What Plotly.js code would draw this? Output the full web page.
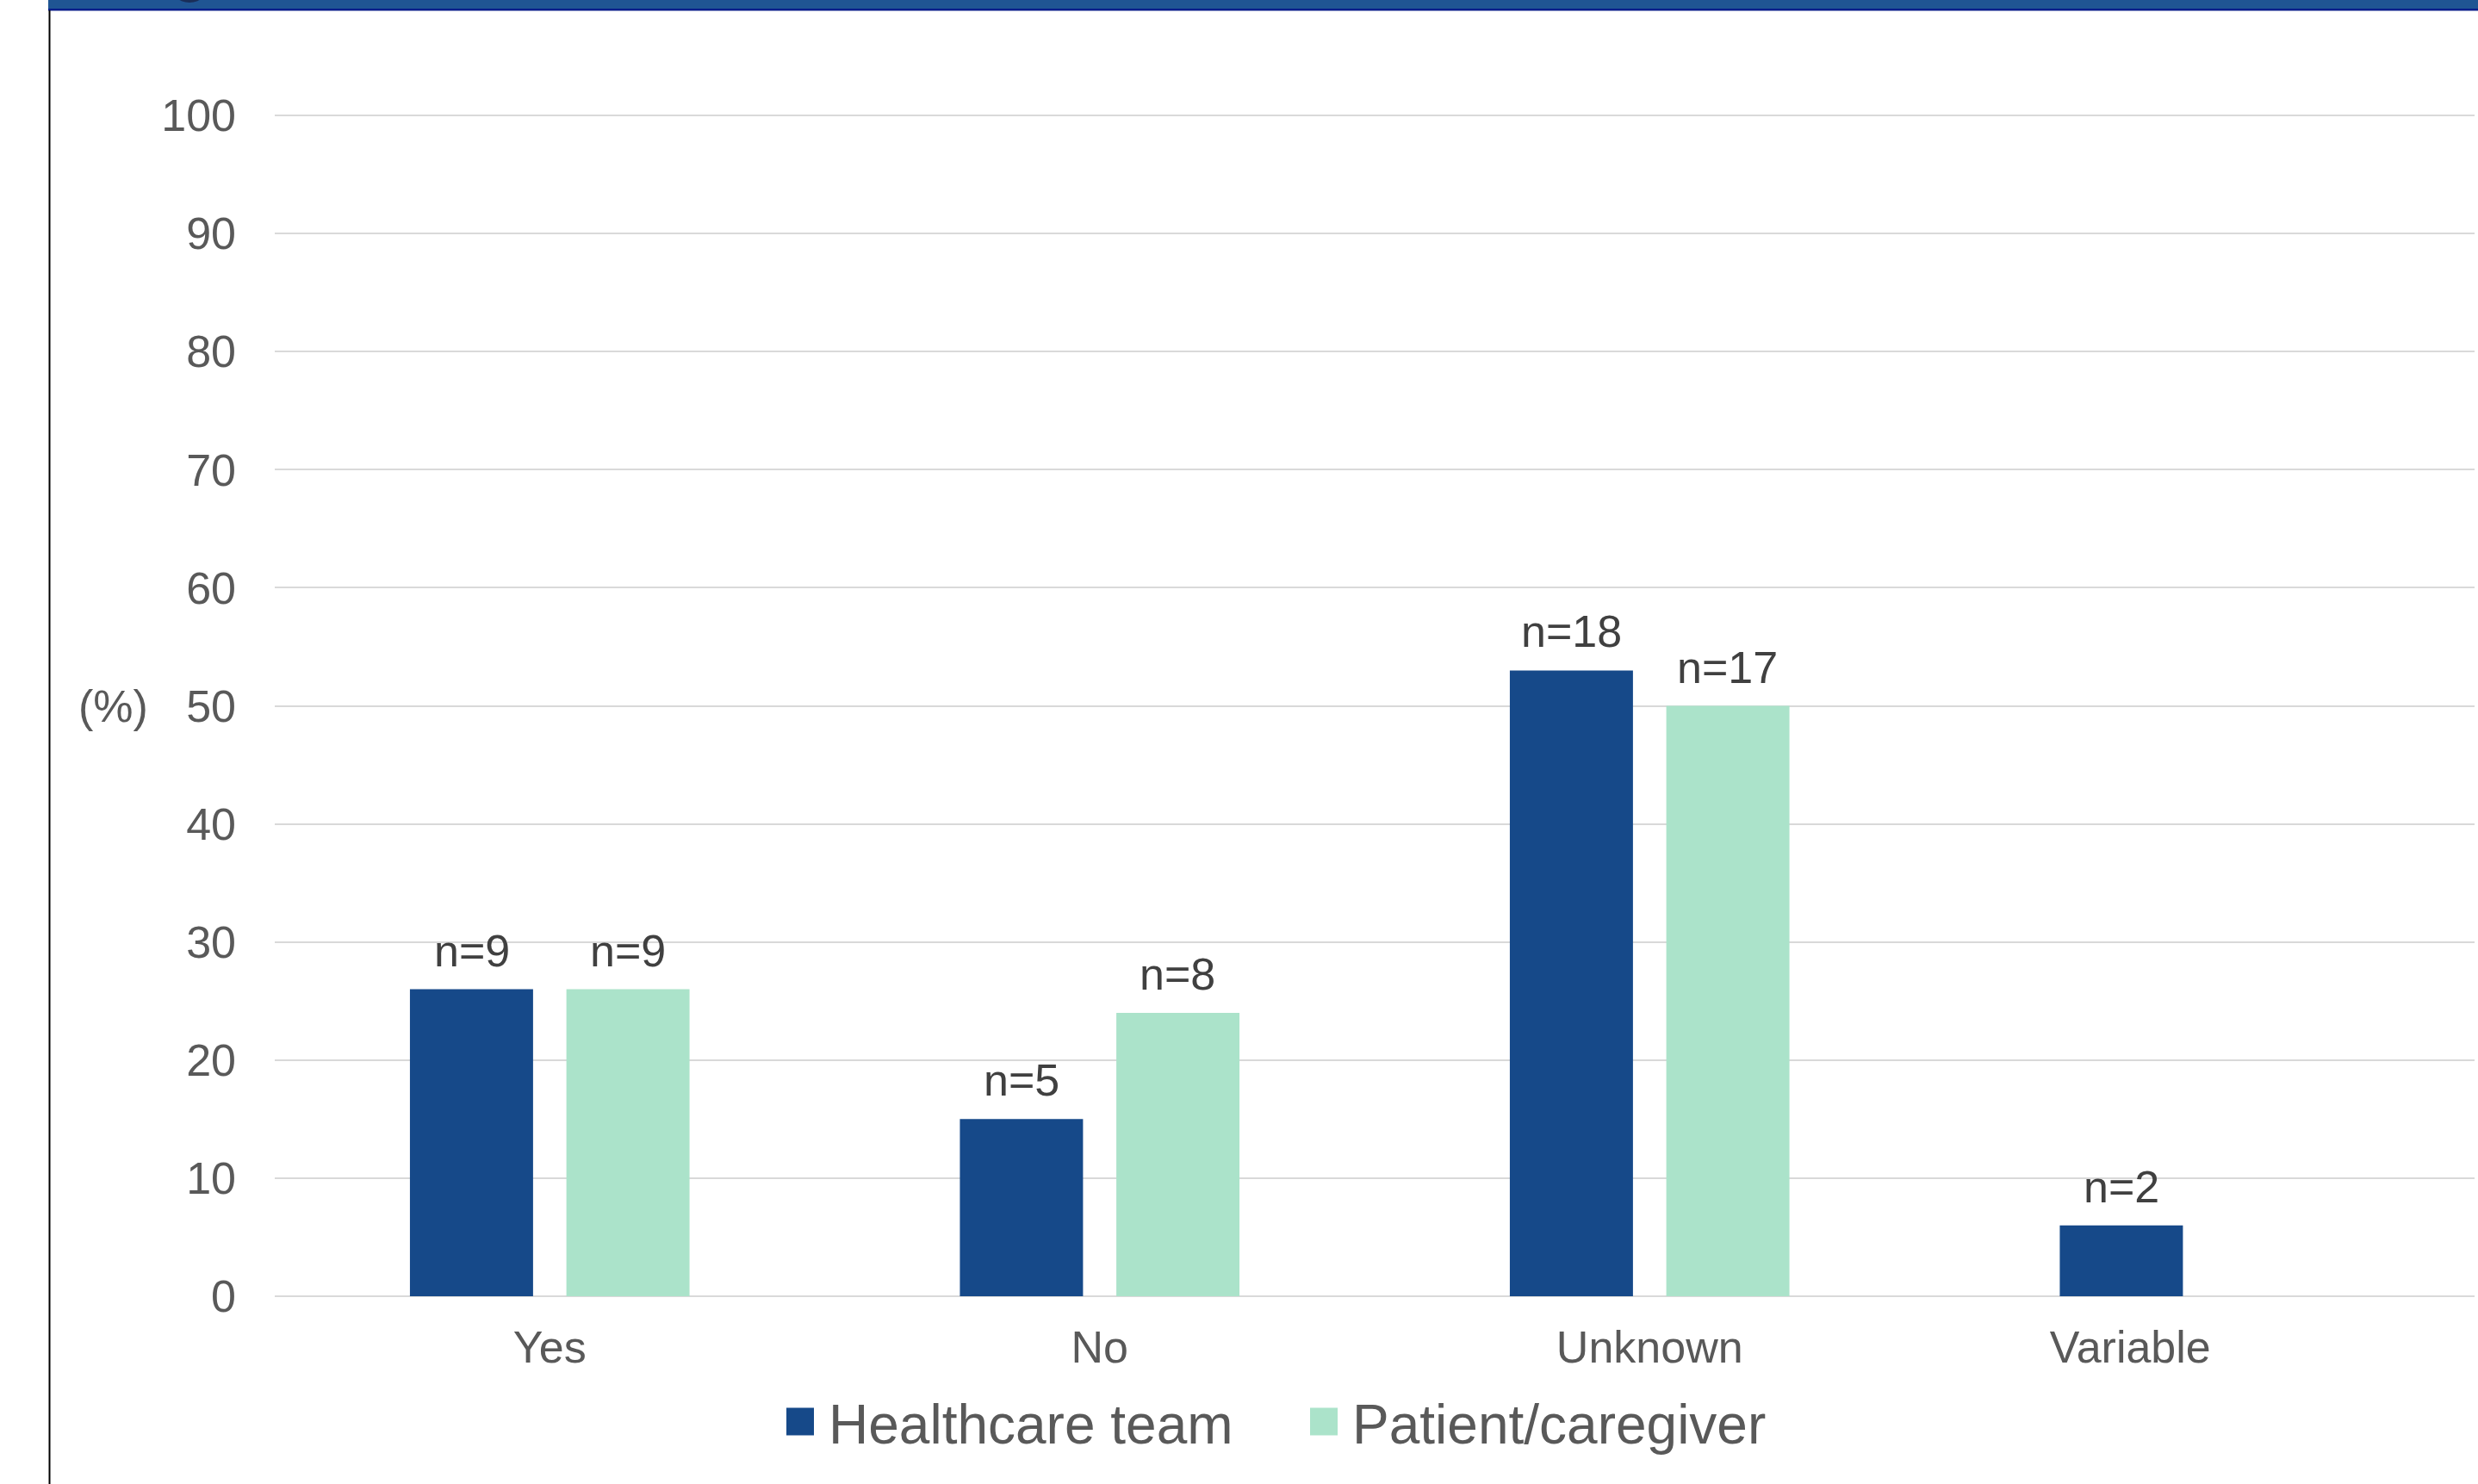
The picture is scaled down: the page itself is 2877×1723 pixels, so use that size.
<!DOCTYPE html>
<html><head><meta charset="utf-8">
<script src="https://cdn.plot.ly/plotly-3.0.1.min.js"></script>
<style>html,body{margin:0;padding:0;background:#fff;overflow:hidden;} #chart{width:2877px;height:1723px;}</style>
</head><body><div id="chart"></div>
<script>
// ---- data ----
const categories = ['Yes', 'No', 'Unknown', 'Variable'];
const seriesNames = ['Healthcare team', 'Patient/caregiver'];
const healthcareTeam = [26, 15, 53, 6];
const patientCaregiver = [26, 24, 50, null];
const healthcareN = ['n=9', 'n=5', 'n=18', 'n=2'];
const patientN = ['n=9', 'n=8', 'n=17', ''];
const yTickValues = [0, 10, 20, 30, 40, 50, 60, 70, 80, 90, 100];
const yUnitLabel = '(%)';

// ---- geometry ----
const W = 2877, H = 1723;
const L = 319, R = 4, T = 132, B = 218;
const plotW = W - L - R, plotH = H - T - B;
const px = x => (x - L) / plotW;
const py = y => (H - B - y) / plotH;

const colors = ['#164989', '#ABE3CA'];
const fontFam = 'Arial, "Liberation Sans", sans-serif';
const barOffset = 0.142;
const catPos = categories.map((c, i) => i);
// the last category label sits under its single bar in the original
const tickPos = catPos.map((p, i) => (patientCaregiver[i] == null ? p - 0.126 : p));

const traces = [
  {type: 'bar', name: seriesNames[0], x: catPos, y: healthcareTeam,
   marker: {color: colors[0]}, hoverinfo: 'none'},
  {type: 'bar', name: seriesNames[1], x: catPos, y: patientCaregiver,
   marker: {color: colors[1]}, hoverinfo: 'none'}
];

const annotations = [];
catPos.forEach((p, i) => {
  [[healthcareTeam, healthcareN, -barOffset], [patientCaregiver, patientN, barOffset]].forEach(([vals, labels, off]) => {
    if (vals[i] == null || !labels[i]) return;
    annotations.push({
      x: p + off, y: vals[i], xref: 'x', yref: 'y', text: labels[i],
      showarrow: false, yanchor: 'bottom', xanchor: 'center', yshift: 14,
      font: {family: fontFam, size: 52, color: '#404040'}
    });
  });
});
annotations.push({
  x: px(131), y: 50, xref: 'paper', yref: 'y', text: yUnitLabel, showarrow: false,
  xanchor: 'center', yanchor: 'middle', font: {family: fontFam, size: 52, color: '#595959'}
});

const shapes = [
  {type: 'rect', xref: 'paper', yref: 'paper', x0: px(56), x1: px(2877), y0: py(0), y1: py(10),
   fillcolor: '#1F5593', line: {width: 0}, layer: 'above'},
  {type: 'rect', xref: 'paper', yref: 'paper', x0: px(56), x1: px(2877), y0: py(10), y1: py(12.5),
   fillcolor: '#0A1E8A', line: {width: 0}, layer: 'above'},
  {type: 'circle', xref: 'paper', yref: 'paper', x0: px(196), x1: px(244), y0: py(-45), y1: py(3),
   fillcolor: '#1A2E58', line: {width: 0}, layer: 'above'},
  {type: 'rect', xref: 'paper', yref: 'paper', x0: px(56.5), x1: px(58.5), y0: py(12), y1: py(1723),
   fillcolor: '#000000', line: {width: 0}, layer: 'above'}
];

const layout = {
  width: W, height: H,
  margin: {l: L, r: R, t: T, b: B, pad: 0},
  paper_bgcolor: '#ffffff', plot_bgcolor: '#ffffff',
  font: {family: fontFam, size: 52, color: '#595959'},
  barmode: 'group', bargap: 0.431, bargroupgap: 0.213,
  xaxis: {type: 'linear', range: [-0.5, 3.5], tickvals: tickPos, ticktext: categories,
          showgrid: false, zeroline: false, showline: false,
          ticks: '', ticklabelstandoff: 24, tickfont: {family: fontFam, size: 52, color: '#595959'}, fixedrange: true},
  yaxis: {range: [0, 100.15], tickvals: yTickValues, showgrid: true, gridcolor: '#D9D9D9', gridwidth: 2,
          zeroline: true, zerolinecolor: '#D9D9D9', zerolinewidth: 2, showline: false, ticks: '',
          ticklabelstandoff: 44, tickfont: {family: fontFam, size: 52, color: '#595959'}, fixedrange: true},
  showlegend: true,
  legend: {orientation: 'h', x: px(896), xanchor: 'left', y: py(1651), yanchor: 'middle',
           font: {family: fontFam, size: 64, color: '#595959'}, itemwidth: 56, entrywidth: 537,
           bgcolor: 'rgba(0,0,0,0)', traceorder: 'normal'},
  annotations: annotations,
  shapes: shapes
};

Plotly.newPlot('chart', traces, layout, {staticPlot: true, displayModeBar: false}).then(() => {
  document.querySelectorAll('.legend .legendpoints path').forEach(p => {
    p.setAttribute('d', 'M16,16H-16V-16H16Z');
  });
});
</script>
</body></html>
